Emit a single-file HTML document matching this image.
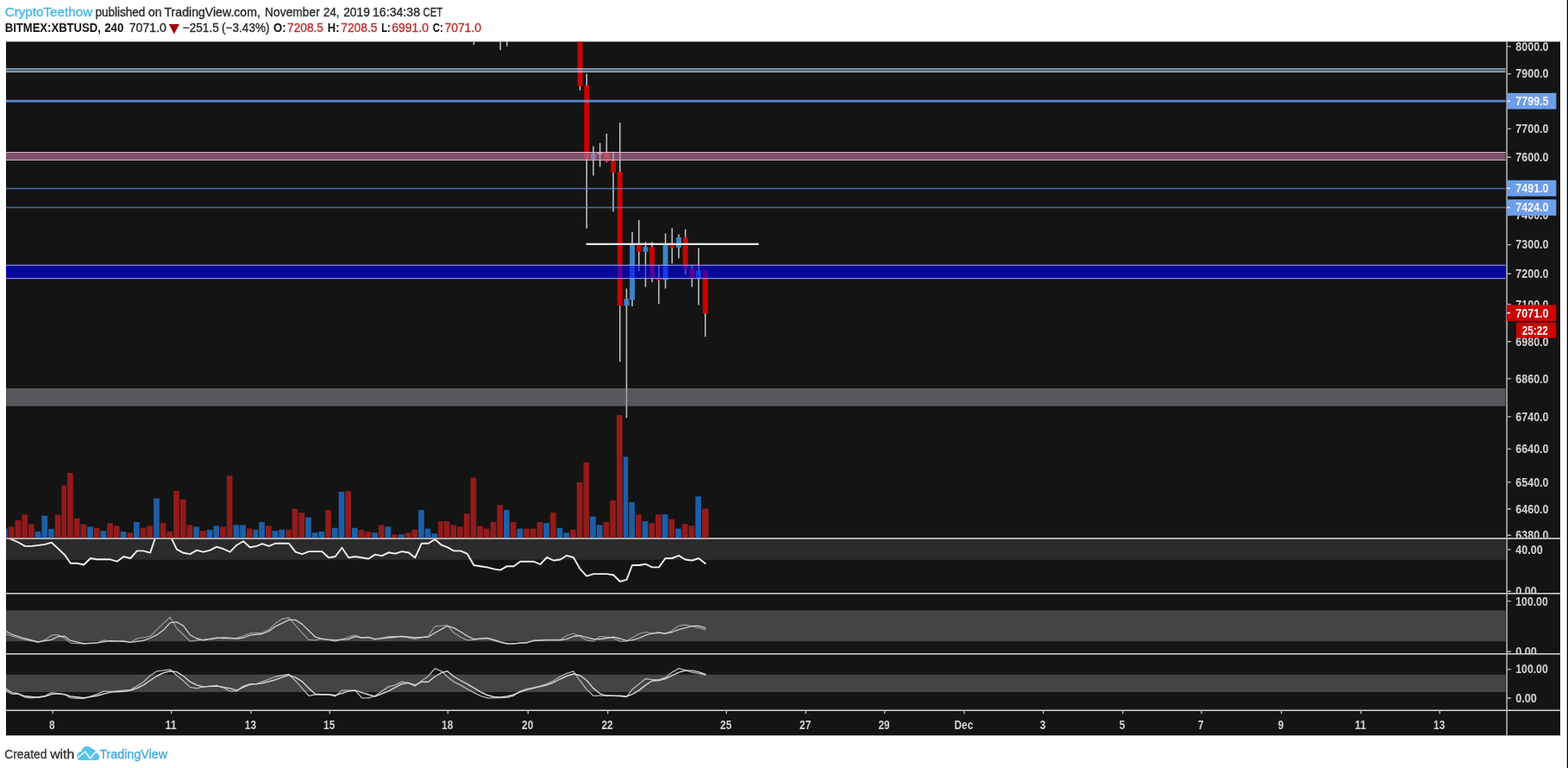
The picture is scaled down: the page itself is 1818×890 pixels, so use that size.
<!DOCTYPE html>
<html lang="en">
<head>
<meta charset="utf-8">
<title>BITMEX:XBTUSD, 240 - TradingView chart by CryptoTeethow</title>
<style>
html, body { margin: 0; padding: 0; background: #ffffff; }
body { width: 1818px; height: 890px; overflow: hidden; position: relative; }
svg { position: absolute; left: 0; top: 0; display: block; font-family: "Liberation Sans", sans-serif; }
svg text { white-space: pre; }
</style>
</head>
<body>
<svg width="1818" height="890" viewBox="0 0 1818 890">
<g id="header">
<text y="19" font-size="14.5" fill="#2a2a2a" stroke="#2a2a2a" stroke-width="0.35"><tspan x="5.70" textLength="101.5" lengthAdjust="spacingAndGlyphs" fill="#4ab6ea" stroke="#4ab6ea">CryptoTeethow</tspan> <tspan x="110.40" textLength="58.0" lengthAdjust="spacingAndGlyphs">published</tspan> <tspan x="172.00" textLength="15.6" lengthAdjust="spacingAndGlyphs">on</tspan> <tspan x="190.50" textLength="111.4" lengthAdjust="spacingAndGlyphs">TradingView.com,</tspan> <tspan x="307.10" textLength="63.7" lengthAdjust="spacingAndGlyphs">November</tspan> <tspan x="375.10" textLength="18.3" lengthAdjust="spacingAndGlyphs">24,</tspan> <tspan x="398.20" textLength="30.7" lengthAdjust="spacingAndGlyphs">2019</tspan> <tspan x="432.00" textLength="55.0" lengthAdjust="spacingAndGlyphs">16:34:38</tspan> <tspan x="490.60" textLength="22.5" lengthAdjust="spacingAndGlyphs">CET</tspan></text>
<text y="37" font-size="14.5"><tspan x="5.70" textLength="111.1" lengthAdjust="spacingAndGlyphs" fill="#111" font-weight="bold">BITMEX:XBTUSD,</tspan> <tspan x="121.20" textLength="22.2" lengthAdjust="spacingAndGlyphs" fill="#111" font-weight="bold">240</tspan> <tspan x="149.70" textLength="43.3" lengthAdjust="spacingAndGlyphs" fill="#2a2a2a" stroke="#2a2a2a" stroke-width="0.35">7071.0</tspan></text>
<polygon points="195.9,27.9 207.9,27.9 201.9,39.6" fill="#a30000"/>
<text y="37" font-size="14.5"><tspan x="211.70" textLength="42.1" lengthAdjust="spacingAndGlyphs" fill="#2a2a2a" stroke="#2a2a2a" stroke-width="0.35">−251.5</tspan> <tspan x="257.00" textLength="55.6" lengthAdjust="spacingAndGlyphs" fill="#2a2a2a" stroke="#2a2a2a" stroke-width="0.35">(−3.43%)</tspan> <tspan x="317.00" textLength="14.6" lengthAdjust="spacingAndGlyphs" fill="#111" font-weight="bold">O:</tspan> <tspan x="333.00" textLength="42.0" lengthAdjust="spacingAndGlyphs" fill="#c23030" stroke="#c23030" stroke-width="0.35">7208.5</tspan> <tspan x="379.70" textLength="13.8" lengthAdjust="spacingAndGlyphs" fill="#111" font-weight="bold">H:</tspan> <tspan x="395.20" textLength="42.3" lengthAdjust="spacingAndGlyphs" fill="#c23030" stroke="#c23030" stroke-width="0.35">7208.5</tspan> <tspan x="442.30" textLength="10.5" lengthAdjust="spacingAndGlyphs" fill="#111" font-weight="bold">L:</tspan> <tspan x="454.30" textLength="42.6" lengthAdjust="spacingAndGlyphs" fill="#c23030" stroke="#c23030" stroke-width="0.35">6991.0</tspan> <tspan x="501.80" textLength="12.1" lengthAdjust="spacingAndGlyphs" fill="#111" font-weight="bold">C:</tspan> <tspan x="515.40" textLength="42.6" lengthAdjust="spacingAndGlyphs" fill="#c23030" stroke="#c23030" stroke-width="0.35">7071.0</tspan></text>
</g>
<rect x="7.00" y="48.30" width="1802.00" height="804.00" fill="#141414"/>
<clipPath id="plot"><rect x="7" y="48.3" width="1738.60" height="575.10"/></clipPath>
<clipPath id="p1"><rect x="7" y="624.6" width="1738.60" height="62.6"/></clipPath>
<clipPath id="p2"><rect x="7" y="688.6" width="1738.60" height="68.6"/></clipPath>
<clipPath id="p3"><rect x="7" y="758.6" width="1738.60" height="64"/></clipPath>
<rect x="7.00" y="624.40" width="1738.60" height="24.30" fill="#2b2b2b"/>
<rect x="7.00" y="707.40" width="1738.60" height="35.90" fill="#444444"/>
<rect x="7.00" y="781.70" width="1738.60" height="20.30" fill="#444444"/>
<line x1="7.00" y1="624.10" x2="1809.00" y2="624.10" stroke="#e0e0e0" stroke-width="1.5"/>
<g id="volume" clip-path="url(#plot)">
<rect x="2.15" y="612.60" width="6.70" height="10.80" fill="#1c5fa8"/>
<rect x="9.85" y="610.40" width="6.70" height="13.00" fill="#921b1b"/>
<rect x="17.55" y="603.00" width="6.70" height="20.40" fill="#921b1b"/>
<rect x="25.25" y="596.30" width="6.70" height="27.10" fill="#921b1b"/>
<rect x="32.95" y="607.50" width="6.70" height="15.90" fill="#921b1b"/>
<rect x="40.65" y="616.10" width="6.70" height="7.30" fill="#1c5fa8"/>
<rect x="48.35" y="597.60" width="6.70" height="25.80" fill="#1c5fa8"/>
<rect x="56.05" y="612.90" width="6.70" height="10.50" fill="#1c5fa8"/>
<rect x="63.75" y="596.30" width="6.70" height="27.10" fill="#921b1b"/>
<rect x="71.45" y="562.50" width="5.60" height="60.90" fill="#921b1b"/>
<rect x="78.05" y="548.10" width="6.70" height="75.30" fill="#921b1b"/>
<rect x="85.75" y="600.80" width="6.70" height="22.60" fill="#921b1b"/>
<rect x="93.45" y="607.50" width="6.70" height="15.90" fill="#921b1b"/>
<rect x="101.15" y="610.40" width="6.70" height="13.00" fill="#1c5fa8"/>
<rect x="108.85" y="611.70" width="6.70" height="11.70" fill="#921b1b"/>
<rect x="116.55" y="615.10" width="6.70" height="8.30" fill="#1c5fa8"/>
<rect x="124.25" y="606.20" width="6.70" height="17.20" fill="#921b1b"/>
<rect x="131.95" y="609.40" width="6.70" height="14.00" fill="#921b1b"/>
<rect x="139.65" y="616.10" width="6.70" height="7.30" fill="#1c5fa8"/>
<rect x="147.35" y="617.30" width="6.70" height="6.10" fill="#921b1b"/>
<rect x="155.05" y="605.00" width="6.70" height="18.40" fill="#1c5fa8"/>
<rect x="162.75" y="611.70" width="6.70" height="11.70" fill="#921b1b"/>
<rect x="170.45" y="609.40" width="6.70" height="14.00" fill="#921b1b"/>
<rect x="178.15" y="577.50" width="6.70" height="45.90" fill="#1c5fa8"/>
<rect x="185.85" y="606.20" width="6.70" height="17.20" fill="#921b1b"/>
<rect x="193.55" y="615.90" width="6.70" height="7.50" fill="#921b1b"/>
<rect x="201.25" y="568.90" width="6.70" height="54.50" fill="#921b1b"/>
<rect x="208.95" y="578.80" width="6.70" height="44.60" fill="#921b1b"/>
<rect x="216.65" y="608.40" width="6.70" height="15.00" fill="#921b1b"/>
<rect x="224.35" y="610.40" width="6.70" height="13.00" fill="#1c5fa8"/>
<rect x="232.05" y="615.10" width="6.70" height="8.30" fill="#921b1b"/>
<rect x="239.75" y="613.90" width="6.70" height="9.50" fill="#1c5fa8"/>
<rect x="247.45" y="609.40" width="6.70" height="14.00" fill="#1c5fa8"/>
<rect x="255.15" y="610.40" width="6.70" height="13.00" fill="#921b1b"/>
<rect x="262.85" y="551.30" width="6.70" height="72.10" fill="#921b1b"/>
<rect x="270.55" y="608.40" width="6.70" height="15.00" fill="#1c5fa8"/>
<rect x="278.25" y="608.40" width="6.70" height="15.00" fill="#1c5fa8"/>
<rect x="285.95" y="612.60" width="6.70" height="10.80" fill="#921b1b"/>
<rect x="293.65" y="613.90" width="5.60" height="9.50" fill="#1c5fa8"/>
<rect x="300.25" y="605.00" width="6.70" height="18.40" fill="#1c5fa8"/>
<rect x="307.95" y="609.40" width="6.70" height="14.00" fill="#921b1b"/>
<rect x="315.65" y="615.10" width="6.70" height="8.30" fill="#1c5fa8"/>
<rect x="323.35" y="613.90" width="6.70" height="9.50" fill="#1c5fa8"/>
<rect x="331.05" y="613.90" width="6.70" height="9.50" fill="#921b1b"/>
<rect x="338.75" y="589.70" width="6.70" height="33.70" fill="#921b1b"/>
<rect x="346.45" y="594.10" width="6.70" height="29.30" fill="#921b1b"/>
<rect x="354.15" y="599.50" width="6.70" height="23.90" fill="#1c5fa8"/>
<rect x="361.85" y="617.30" width="6.70" height="6.10" fill="#1c5fa8"/>
<rect x="369.55" y="616.10" width="6.70" height="7.30" fill="#1c5fa8"/>
<rect x="377.25" y="590.90" width="6.70" height="32.50" fill="#921b1b"/>
<rect x="384.95" y="611.70" width="6.70" height="11.70" fill="#1c5fa8"/>
<rect x="392.65" y="569.90" width="6.70" height="53.50" fill="#1c5fa8"/>
<rect x="400.35" y="568.90" width="6.70" height="54.50" fill="#921b1b"/>
<rect x="408.05" y="611.70" width="6.70" height="11.70" fill="#1c5fa8"/>
<rect x="415.75" y="613.90" width="6.70" height="9.50" fill="#921b1b"/>
<rect x="423.45" y="616.10" width="6.70" height="7.30" fill="#921b1b"/>
<rect x="431.15" y="617.30" width="6.70" height="6.10" fill="#1c5fa8"/>
<rect x="438.85" y="608.40" width="6.70" height="15.00" fill="#921b1b"/>
<rect x="446.55" y="610.40" width="6.70" height="13.00" fill="#1c5fa8"/>
<rect x="454.25" y="619.30" width="6.70" height="4.10" fill="#921b1b"/>
<rect x="461.95" y="619.30" width="6.70" height="4.10" fill="#1c5fa8"/>
<rect x="469.65" y="617.30" width="6.70" height="6.10" fill="#921b1b"/>
<rect x="477.35" y="613.90" width="6.70" height="9.50" fill="#921b1b"/>
<rect x="485.05" y="590.90" width="6.70" height="32.50" fill="#1c5fa8"/>
<rect x="492.75" y="612.60" width="6.70" height="10.80" fill="#1c5fa8"/>
<rect x="500.45" y="618.30" width="6.70" height="5.10" fill="#1c5fa8"/>
<rect x="508.15" y="604.00" width="5.60" height="19.40" fill="#921b1b"/>
<rect x="514.75" y="604.00" width="6.70" height="19.40" fill="#921b1b"/>
<rect x="522.45" y="608.40" width="6.70" height="15.00" fill="#921b1b"/>
<rect x="530.15" y="610.40" width="6.70" height="13.00" fill="#921b1b"/>
<rect x="537.85" y="595.30" width="6.70" height="28.10" fill="#921b1b"/>
<rect x="545.55" y="553.60" width="6.70" height="69.80" fill="#921b1b"/>
<rect x="553.25" y="609.40" width="6.70" height="14.00" fill="#921b1b"/>
<rect x="560.95" y="612.60" width="6.70" height="10.80" fill="#921b1b"/>
<rect x="568.65" y="605.00" width="6.70" height="18.40" fill="#921b1b"/>
<rect x="576.35" y="585.20" width="6.70" height="38.20" fill="#921b1b"/>
<rect x="584.05" y="590.90" width="6.70" height="32.50" fill="#1c5fa8"/>
<rect x="591.75" y="605.00" width="6.70" height="18.40" fill="#921b1b"/>
<rect x="599.45" y="612.60" width="6.70" height="10.80" fill="#1c5fa8"/>
<rect x="607.15" y="612.60" width="6.70" height="10.80" fill="#921b1b"/>
<rect x="614.85" y="612.60" width="6.70" height="10.80" fill="#921b1b"/>
<rect x="622.55" y="605.00" width="6.70" height="18.40" fill="#921b1b"/>
<rect x="630.25" y="606.20" width="6.70" height="17.20" fill="#1c5fa8"/>
<rect x="637.95" y="594.10" width="6.70" height="29.30" fill="#921b1b"/>
<rect x="645.65" y="611.70" width="6.70" height="11.70" fill="#1c5fa8"/>
<rect x="653.35" y="617.30" width="6.70" height="6.10" fill="#1c5fa8"/>
<rect x="661.05" y="613.90" width="6.70" height="9.50" fill="#921b1b"/>
<rect x="668.75" y="559.00" width="6.70" height="64.40" fill="#921b1b"/>
<rect x="676.45" y="535.80" width="6.70" height="87.60" fill="#921b1b"/>
<rect x="684.15" y="598.60" width="6.70" height="24.80" fill="#1c5fa8"/>
<rect x="691.85" y="608.40" width="6.70" height="15.00" fill="#1c5fa8"/>
<rect x="699.55" y="605.00" width="6.70" height="18.40" fill="#921b1b"/>
<rect x="707.25" y="579.80" width="6.70" height="43.60" fill="#921b1b"/>
<rect x="714.95" y="480.90" width="6.70" height="142.50" fill="#921b1b"/>
<rect x="722.65" y="529.30" width="5.60" height="94.10" fill="#1c5fa8"/>
<rect x="729.25" y="582.00" width="6.70" height="41.40" fill="#1c5fa8"/>
<rect x="736.95" y="596.30" width="6.70" height="27.10" fill="#921b1b"/>
<rect x="744.65" y="604.00" width="6.70" height="19.40" fill="#1c5fa8"/>
<rect x="752.35" y="606.20" width="6.70" height="17.20" fill="#921b1b"/>
<rect x="760.05" y="596.10" width="6.70" height="27.30" fill="#921b1b"/>
<rect x="767.75" y="596.10" width="6.70" height="27.30" fill="#1c5fa8"/>
<rect x="775.45" y="601.70" width="6.70" height="21.70" fill="#921b1b"/>
<rect x="783.15" y="612.60" width="6.70" height="10.80" fill="#1c5fa8"/>
<rect x="790.85" y="607.10" width="6.70" height="16.30" fill="#921b1b"/>
<rect x="798.55" y="609.20" width="6.70" height="14.20" fill="#921b1b"/>
<rect x="806.25" y="575.30" width="6.70" height="48.10" fill="#1c5fa8"/>
<rect x="813.95" y="589.50" width="7.70" height="33.90" fill="#921b1b"/>
</g>
<g id="candles" clip-path="url(#plot)">
<line x1="549.35" y1="47.00" x2="549.35" y2="51.90" stroke="#c4c4c4" stroke-width="1.5"/>
<line x1="580.15" y1="47.00" x2="580.15" y2="58.10" stroke="#c4c4c4" stroke-width="1.5"/>
<line x1="587.85" y1="47.00" x2="587.85" y2="53.80" stroke="#c4c4c4" stroke-width="1.5"/>
<line x1="672.55" y1="47.00" x2="672.55" y2="104.80" stroke="#c4c4c4" stroke-width="1.5"/>
<line x1="680.25" y1="85.50" x2="680.25" y2="264.70" stroke="#c4c4c4" stroke-width="1.5"/>
<line x1="687.95" y1="169.40" x2="687.95" y2="203.50" stroke="#c4c4c4" stroke-width="1.5"/>
<line x1="695.65" y1="165.70" x2="695.65" y2="193.60" stroke="#c4c4c4" stroke-width="1.5"/>
<line x1="703.35" y1="154.70" x2="703.35" y2="188.20" stroke="#c4c4c4" stroke-width="1.5"/>
<line x1="711.05" y1="175.80" x2="711.05" y2="245.30" stroke="#c4c4c4" stroke-width="1.5"/>
<line x1="718.75" y1="141.90" x2="718.75" y2="419.20" stroke="#c4c4c4" stroke-width="1.5"/>
<line x1="726.45" y1="334.40" x2="726.45" y2="484.30" stroke="#c4c4c4" stroke-width="1.5"/>
<line x1="733.05" y1="269.00" x2="733.05" y2="355.00" stroke="#c4c4c4" stroke-width="1.5"/>
<line x1="740.75" y1="255.00" x2="740.75" y2="314.30" stroke="#c4c4c4" stroke-width="1.5"/>
<line x1="748.45" y1="280.40" x2="748.45" y2="332.50" stroke="#c4c4c4" stroke-width="1.5"/>
<line x1="756.15" y1="280.40" x2="756.15" y2="327.00" stroke="#c4c4c4" stroke-width="1.5"/>
<line x1="763.85" y1="307.70" x2="763.85" y2="352.20" stroke="#c4c4c4" stroke-width="1.5"/>
<line x1="771.55" y1="270.40" x2="771.55" y2="334.40" stroke="#c4c4c4" stroke-width="1.5"/>
<line x1="779.25" y1="264.60" x2="779.25" y2="305.20" stroke="#c4c4c4" stroke-width="1.5"/>
<line x1="786.95" y1="271.60" x2="786.95" y2="299.40" stroke="#c4c4c4" stroke-width="1.5"/>
<line x1="794.65" y1="265.80" x2="794.65" y2="318.40" stroke="#c4c4c4" stroke-width="1.5"/>
<line x1="802.35" y1="306.70" x2="802.35" y2="332.50" stroke="#c4c4c4" stroke-width="1.5"/>
<line x1="810.05" y1="287.20" x2="810.05" y2="353.40" stroke="#c4c4c4" stroke-width="1.5"/>
<line x1="817.75" y1="313.50" x2="817.75" y2="390.30" stroke="#c4c4c4" stroke-width="1.5"/>
<rect x="669.60" y="47.00" width="5.90" height="53.10" fill="#cc0000"/>
<rect x="677.30" y="99.00" width="5.90" height="84.80" fill="#cc0000"/>
<rect x="685.00" y="178.10" width="5.90" height="5.60" fill="#3d85c6"/>
<rect x="692.70" y="177.20" width="5.90" height="1.40" fill="#d8d8d8"/>
<rect x="700.40" y="177.20" width="5.90" height="9.70" fill="#cc0000"/>
<rect x="708.10" y="186.60" width="5.90" height="13.50" fill="#cc0000"/>
<rect x="715.80" y="199.00" width="5.90" height="155.40" fill="#cc0000"/>
<rect x="723.50" y="346.40" width="5.90" height="8.00" fill="#3d85c6"/>
<rect x="730.10" y="283.30" width="5.90" height="64.30" fill="#3d85c6"/>
<rect x="737.80" y="283.50" width="5.90" height="8.10" fill="#cc0000"/>
<rect x="745.50" y="286.20" width="5.90" height="5.40" fill="#3d85c6"/>
<rect x="753.20" y="286.20" width="5.90" height="35.40" fill="#cc0000"/>
<rect x="760.90" y="321.60" width="5.90" height="3.20" fill="#cc0000"/>
<rect x="768.60" y="283.30" width="5.90" height="41.20" fill="#3d85c6"/>
<rect x="776.30" y="283.60" width="5.90" height="3.40" fill="#cc0000"/>
<rect x="784.00" y="275.10" width="5.90" height="11.70" fill="#3d85c6"/>
<rect x="791.70" y="274.80" width="5.90" height="37.20" fill="#cc0000"/>
<rect x="799.40" y="311.30" width="5.90" height="10.60" fill="#cc0000"/>
<rect x="807.10" y="313.50" width="5.90" height="8.80" fill="#3d85c6"/>
<rect x="814.80" y="313.50" width="5.90" height="49.70" fill="#cc0000"/>
</g>
<g id="drawings">
<rect x="7.00" y="79.00" width="1738.60" height="4.90" fill="#78b9ff" fill-opacity="0.47"/>
<line x1="7.00" y1="79.65" x2="1745.60" y2="79.65" stroke="#e9e9e6" stroke-width="1.4" stroke-opacity="0.55"/>
<line x1="7.00" y1="83.25" x2="1745.60" y2="83.25" stroke="#e9e9e6" stroke-width="1.4" stroke-opacity="0.55"/>
<line x1="7.00" y1="117.10" x2="1745.60" y2="117.10" stroke="#6d9eeb" stroke-width="2.6" stroke-opacity="0.85"/>
<rect x="7.00" y="176.10" width="1738.60" height="9.80" fill="#c27ba0" fill-opacity="0.6"/>
<line x1="7.00" y1="176.50" x2="1745.60" y2="176.50" stroke="#e2b8cd" stroke-width="1.1" stroke-opacity="0.9"/>
<line x1="7.00" y1="185.50" x2="1745.60" y2="185.50" stroke="#e2b8cd" stroke-width="1.1" stroke-opacity="0.9"/>
<line x1="7.00" y1="218.60" x2="1745.60" y2="218.60" stroke="#5a86c8" stroke-width="1.5" stroke-opacity="0.8"/>
<line x1="7.00" y1="240.60" x2="1745.60" y2="240.60" stroke="#5a86c8" stroke-width="1.5" stroke-opacity="0.8"/>
<line x1="679.60" y1="282.90" x2="879.60" y2="282.90" stroke="#e8e8e8" stroke-width="2.2"/>
<rect x="7.00" y="307.30" width="1738.60" height="15.40" fill="#0000ff" fill-opacity="0.57"/>
<line x1="7.00" y1="307.40" x2="1745.60" y2="307.40" stroke="#9a9aff" stroke-width="1.2" stroke-opacity="0.85"/>
<line x1="7.00" y1="322.70" x2="1745.60" y2="322.70" stroke="#9a9aff" stroke-width="1.2" stroke-opacity="0.85"/>
<rect x="7.00" y="450.00" width="1738.60" height="20.60" fill="#8c8e96" fill-opacity="0.56"/>
</g>
<g clip-path="url(#p1)">
<polyline points="5.9,622.0 13.6,625.2 21.3,628.5 29.0,632.9 36.8,632.9 52.2,630.9 59.8,628.7 67.5,635.9 75.2,643.3 81.8,652.7 89.5,652.7 97.2,654.5 104.9,647.0 112.7,648.3 128.0,648.3 135.7,650.7 143.4,645.0 151.2,647.0 158.8,638.4 166.5,638.4 174.2,640.6 181.9,617.7 189.7,615.0" fill="none" stroke="#efefef" stroke-width="1.9" stroke-linejoin="round" stroke-linecap="round"/>
<polyline points="189.7,615.0 197.3,621.0 205.0,636.6 212.7,640.8 220.4,642.1 228.2,637.6 235.8,639.6 243.5,637.6 251.2,633.7 259.0,636.1 266.7,639.6 274.4,631.7 282.1,627.2 289.8,634.2 297.5,632.9 304.1,630.2 311.8,632.9 319.5,629.7 334.9,629.7 342.6,639.6 350.3,642.1 358.0,639.1 373.4,639.1 381.1,646.3 388.8,645.0 396.5,634.7 404.2,646.3 411.9,645.0 427.3,647.5 435.0,642.6 442.7,644.1 450.4,640.3 458.1,641.6 465.8,639.1 473.5,640.3 481.2,646.3 488.9,629.7 496.6,629.7 504.3,625.0 512.0,631.7 518.6,634.2 526.2,638.4 533.9,638.4 541.6,641.6 549.4,655.0 557.1,656.2 564.8,657.4 572.5,659.4 580.1,660.6 587.9,656.2 595.6,656.2 603.2,650.7 618.6,650.7 626.4,654.0 634.1,645.8 641.8,649.5 649.5,648.5 657.1,643.8 664.9,646.0 672.6,659.4 680.2,667.6 688.0,665.1 703.4,665.1 711.1,666.3 718.8,673.8 726.5,671.8 733.0,655.0 740.8,655.0 748.5,653.7 756.1,657.4 763.9,657.4 771.5,647.0 779.2,647.0 787.0,643.8 794.6,648.5 802.4,649.5 810.0,647.0 817.8,653.0" fill="none" stroke="#efefef" stroke-width="1.9" stroke-linejoin="round" stroke-linecap="round"/>
</g>
<g clip-path="url(#p2)">
<polyline points="5.9,734.5 13.6,737.0 29.0,741.4 44.4,744.4 52.2,741.4 59.8,736.2 67.5,735.7 75.2,740.0 81.8,745.1 97.2,746.1 112.7,745.1 120.3,741.9 128.0,743.4 143.4,742.7 151.2,744.4 158.8,740.0 174.2,737.5 181.9,729.6 189.7,722.1 197.3,715.2 205.0,728.3 212.7,735.7 220.4,743.2 235.8,741.4 251.2,739.0 259.0,740.0 274.4,739.5 282.1,737.0 289.8,733.8 304.1,733.3 311.8,729.6 319.5,722.1 327.2,717.2 334.9,715.9 342.6,724.6 350.3,733.3 358.0,741.4 365.7,741.9 373.4,740.0 388.8,743.2 404.2,738.2 411.9,736.2 419.6,739.0 427.3,738.2 435.0,741.2 450.4,737.5 465.8,737.5 481.2,740.7 496.6,737.0 504.3,725.8 518.6,724.6 526.2,733.3 533.9,738.2 541.6,741.9 549.4,741.4 564.8,739.5 572.5,742.4 587.9,746.4 595.6,745.6 611.0,745.1 618.6,741.9 634.1,741.4 649.5,741.4 657.1,736.5 664.9,734.0 672.6,737.5 680.2,741.9 688.0,743.2 695.6,737.5 703.4,738.2 711.1,739.5 718.8,743.2 726.5,743.2 733.0,739.0 740.8,734.5 748.5,732.5 756.1,734.0 763.9,732.5 771.5,734.5 779.2,730.8 787.0,725.1 794.6,724.1 802.4,725.8 810.0,727.6 817.8,729.6" fill="none" stroke="#9c9c9c" stroke-width="1.2" stroke-linejoin="round" stroke-linecap="round"/>
<polyline points="5.9,730.8 13.6,735.2 29.0,740.0 44.4,743.9 59.8,741.4 67.5,737.5 75.2,737.5 81.8,742.4 97.2,745.6 112.7,744.9 128.0,742.7 143.4,743.4 151.2,744.4 166.5,742.4 174.2,739.5 181.9,735.7 189.7,730.0 197.3,721.6 205.0,720.9 212.7,725.3 220.4,735.7 228.2,740.0 235.8,741.9 251.2,739.5 259.0,739.0 274.4,740.0 282.1,739.0 289.8,736.2 304.1,734.5 311.8,731.5 319.5,725.8 334.9,718.4 342.6,718.4 350.3,723.4 358.0,730.8 365.7,738.2 373.4,740.7 388.8,741.9 404.2,740.7 411.9,737.7 419.6,739.0 427.3,738.7 435.0,740.7 450.4,739.0 465.8,737.5 481.2,739.0 496.6,738.2 504.3,733.3 512.0,729.1 518.6,725.3 526.2,727.6 533.9,732.0 541.6,737.0 549.4,740.7 564.8,739.5 572.5,741.4 580.1,743.9 587.9,745.6 595.6,746.1 603.2,744.9 611.0,744.4 618.6,742.7 634.1,741.9 649.5,741.9 657.1,740.7 664.9,737.5 672.6,736.5 680.2,738.7 688.0,740.7 695.6,740.7 703.4,739.5 711.1,738.2 718.8,740.0 726.5,742.4 733.0,741.9 740.8,739.5 748.5,736.2 756.1,734.0 763.9,733.3 771.5,734.0 779.2,732.5 787.0,729.6 794.6,727.6 802.4,725.3 810.0,725.3 817.8,727.6" fill="none" stroke="#cfcfcf" stroke-width="1.3" stroke-linejoin="round" stroke-linecap="round"/>
</g>
<g clip-path="url(#p3)">
<polyline points="5.9,800.1 13.6,804.3 21.3,804.3 29.0,808.0 36.8,808.8 52.2,806.3 59.8,802.6 75.2,805.0 81.8,808.8 97.2,809.5 112.7,804.3 120.3,800.8 128.0,801.3 151.2,799.4 158.8,795.1 166.5,790.2 174.2,782.8 181.9,777.8 197.3,775.8 205.0,782.8 212.7,789.0 220.4,796.4 228.2,797.6 235.8,795.9 251.2,794.4 259.0,796.9 266.7,800.8 274.4,800.8 282.1,795.1 289.8,792.7 297.5,792.7 304.1,790.2 319.5,784.0 334.9,781.5 342.6,789.0 350.3,797.6 358.0,806.3 365.7,805.0 381.1,805.0 388.8,806.8 396.5,800.1 411.9,800.1 419.6,808.8 427.3,808.8 435.0,806.3 450.4,795.9 458.1,793.9 465.8,790.2 473.5,791.4 481.2,795.1 488.9,789.0 496.6,783.5 504.3,774.6 512.0,777.8 518.6,784.0 526.2,790.2 533.9,793.9 541.6,798.4 549.4,802.6 557.1,806.3 564.8,808.8 572.5,808.8 587.9,808.3 595.6,806.3 603.2,800.8 611.0,798.4 626.4,795.1 634.1,792.7 641.8,789.0 649.5,784.0 657.1,780.3 664.9,777.8 672.6,789.0 680.2,798.9 688.0,806.3 703.4,805.8 718.8,806.8 726.5,807.5 733.0,798.9 740.8,792.7 748.5,786.5 756.1,787.7 763.9,787.7 771.5,785.2 779.2,779.1 787.0,774.6 794.6,776.6 802.4,779.1 810.0,780.3 817.8,782.0" fill="none" stroke="#b4b4b4" stroke-width="1.3" stroke-linejoin="round" stroke-linecap="round"/>
<polyline points="5.9,797.6 13.6,802.6 21.3,803.8 29.0,806.8 44.4,808.3 52.2,807.0 59.8,804.6 67.5,803.8 75.2,804.6 81.8,807.0 97.2,808.8 112.7,806.3 128.0,802.1 143.4,801.3 151.2,800.1 158.8,797.6 166.5,793.9 174.2,788.5 181.9,783.5 189.7,779.6 197.3,777.8 205.0,778.6 212.7,783.5 220.4,790.2 228.2,793.9 235.8,795.9 251.2,795.1 259.0,796.4 266.7,797.6 274.4,800.1 282.1,796.4 289.8,793.4 304.1,791.9 319.5,787.7 327.2,784.8 334.9,782.3 342.6,785.2 350.3,789.7 358.0,797.6 365.7,804.3 373.4,804.8 381.1,804.8 388.8,805.8 404.2,800.8 411.9,800.1 419.6,802.6 427.3,805.0 435.0,807.0 450.4,800.8 465.8,792.7 473.5,791.4 481.2,793.9 488.9,790.2 496.6,790.2 504.3,784.0 512.0,779.6 518.6,777.8 526.2,784.0 533.9,788.5 541.6,792.7 549.4,797.1 557.1,801.8 564.8,805.5 572.5,807.5 580.1,808.0 587.9,807.0 595.6,805.0 603.2,801.8 611.0,799.4 626.4,795.6 634.1,793.9 641.8,790.9 649.5,787.0 657.1,783.5 664.9,781.0 672.6,782.8 680.2,788.5 688.0,797.6 695.6,803.8 703.4,806.3 718.8,806.3 726.5,807.0 733.0,804.6 740.8,800.1 748.5,793.9 756.1,789.0 763.9,788.5 771.5,786.5 779.2,782.8 787.0,779.1 794.6,777.1 802.4,777.1 810.0,778.6 817.8,781.5" fill="none" stroke="#d6d6d6" stroke-width="1.4" stroke-linejoin="round" stroke-linecap="round"/>
</g>
<g id="axes">
<line x1="7.00" y1="687.80" x2="1809.00" y2="687.80" stroke="#d6d6d6" stroke-width="1.6"/>
<line x1="7.00" y1="757.80" x2="1809.00" y2="757.80" stroke="#d6d6d6" stroke-width="1.6"/>
<line x1="7.00" y1="823.20" x2="1809.00" y2="823.20" stroke="#d6d6d6" stroke-width="1.6"/>
<line x1="1747.10" y1="48.30" x2="1747.10" y2="852.30" stroke="#bcbcbc" stroke-width="1.5"/>
<clipPath id="a0"><rect x="1747.1" y="48.3" width="61.90" height="574.90"/></clipPath>
<clipPath id="a1"><rect x="1747.1" y="624.8" width="61.90" height="62.2"/></clipPath>
<clipPath id="a2"><rect x="1747.1" y="688.6" width="61.90" height="68.4"/></clipPath>
<clipPath id="a3"><rect x="1747.1" y="758.6" width="61.90" height="64"/></clipPath>
<g clip-path="url(#a0)">
<line x1="1747.10" y1="53.90" x2="1752.00" y2="53.90" stroke="#b4b4b4" stroke-width="1.4"/>
<text x="1757.30" y="59.00" font-size="14.0" fill="#d2d2d2" font-weight="bold" textLength="38.2" lengthAdjust="spacingAndGlyphs">8000.0</text>
<line x1="1747.10" y1="85.60" x2="1752.00" y2="85.60" stroke="#b4b4b4" stroke-width="1.4"/>
<text x="1757.30" y="90.00" font-size="14.0" fill="#d2d2d2" font-weight="bold" textLength="38.2" lengthAdjust="spacingAndGlyphs">7900.0</text>
<line x1="1747.10" y1="149.40" x2="1752.00" y2="149.40" stroke="#b4b4b4" stroke-width="1.4"/>
<text x="1757.30" y="154.00" font-size="14.0" fill="#d2d2d2" font-weight="bold" textLength="38.2" lengthAdjust="spacingAndGlyphs">7700.0</text>
<line x1="1747.10" y1="182.20" x2="1752.00" y2="182.20" stroke="#b4b4b4" stroke-width="1.4"/>
<text x="1757.30" y="187.00" font-size="14.0" fill="#d2d2d2" font-weight="bold" textLength="38.2" lengthAdjust="spacingAndGlyphs">7600.0</text>
<line x1="1747.10" y1="249.20" x2="1752.00" y2="249.20" stroke="#b4b4b4" stroke-width="1.4"/>
<text x="1757.30" y="254.00" font-size="14.0" fill="#d2d2d2" font-weight="bold" textLength="38.2" lengthAdjust="spacingAndGlyphs">7400.0</text>
<line x1="1747.10" y1="283.60" x2="1752.00" y2="283.60" stroke="#b4b4b4" stroke-width="1.4"/>
<text x="1757.30" y="288.00" font-size="14.0" fill="#d2d2d2" font-weight="bold" textLength="38.2" lengthAdjust="spacingAndGlyphs">7300.0</text>
<line x1="1747.10" y1="317.30" x2="1752.00" y2="317.30" stroke="#b4b4b4" stroke-width="1.4"/>
<text x="1757.30" y="322.00" font-size="14.0" fill="#d2d2d2" font-weight="bold" textLength="38.2" lengthAdjust="spacingAndGlyphs">7200.0</text>
<line x1="1747.10" y1="352.80" x2="1752.00" y2="352.80" stroke="#b4b4b4" stroke-width="1.4"/>
<text x="1757.30" y="358.00" font-size="14.0" fill="#d2d2d2" font-weight="bold" textLength="38.2" lengthAdjust="spacingAndGlyphs">7100.0</text>
<line x1="1747.10" y1="395.70" x2="1752.00" y2="395.70" stroke="#b4b4b4" stroke-width="1.4"/>
<text x="1757.30" y="401.00" font-size="14.0" fill="#d2d2d2" font-weight="bold" textLength="38.2" lengthAdjust="spacingAndGlyphs">6980.0</text>
<line x1="1747.10" y1="438.90" x2="1752.00" y2="438.90" stroke="#b4b4b4" stroke-width="1.4"/>
<text x="1757.30" y="444.00" font-size="14.0" fill="#d2d2d2" font-weight="bold" textLength="38.2" lengthAdjust="spacingAndGlyphs">6860.0</text>
<line x1="1747.10" y1="482.90" x2="1752.00" y2="482.90" stroke="#b4b4b4" stroke-width="1.4"/>
<text x="1757.30" y="488.00" font-size="14.0" fill="#d2d2d2" font-weight="bold" textLength="38.2" lengthAdjust="spacingAndGlyphs">6740.0</text>
<line x1="1747.10" y1="520.40" x2="1752.00" y2="520.40" stroke="#b4b4b4" stroke-width="1.4"/>
<text x="1757.30" y="525.00" font-size="14.0" fill="#d2d2d2" font-weight="bold" textLength="38.2" lengthAdjust="spacingAndGlyphs">6640.0</text>
<line x1="1747.10" y1="558.90" x2="1752.00" y2="558.90" stroke="#b4b4b4" stroke-width="1.4"/>
<text x="1757.30" y="564.00" font-size="14.0" fill="#d2d2d2" font-weight="bold" textLength="38.2" lengthAdjust="spacingAndGlyphs">6540.0</text>
<line x1="1747.10" y1="589.70" x2="1752.00" y2="589.70" stroke="#b4b4b4" stroke-width="1.4"/>
<text x="1757.30" y="595.00" font-size="14.0" fill="#d2d2d2" font-weight="bold" textLength="38.2" lengthAdjust="spacingAndGlyphs">6460.0</text>
<line x1="1747.10" y1="620.20" x2="1752.00" y2="620.20" stroke="#b4b4b4" stroke-width="1.4"/>
<text x="1757.30" y="625.00" font-size="14.0" fill="#d2d2d2" font-weight="bold" textLength="38.2" lengthAdjust="spacingAndGlyphs">6380.0</text>
<rect x="1746.30" y="107.80" width="58.10" height="18.70" fill="#6d9eeb"/>
<line x1="1747.10" y1="117.20" x2="1751.00" y2="117.20" stroke="#f0f0f0" stroke-width="1.4"/>
<text x="1757.30" y="122.00" font-size="14.0" fill="#f4f4f8" font-weight="bold" textLength="38.2" lengthAdjust="spacingAndGlyphs">7799.5</text>
<rect x="1746.30" y="208.80" width="58.10" height="18.70" fill="#6d9eeb"/>
<line x1="1747.10" y1="218.20" x2="1751.00" y2="218.20" stroke="#f0f0f0" stroke-width="1.4"/>
<text x="1757.30" y="223.00" font-size="14.0" fill="#f4f4f8" font-weight="bold" textLength="38.2" lengthAdjust="spacingAndGlyphs">7491.0</text>
<rect x="1746.30" y="231.10" width="58.10" height="18.70" fill="#6d9eeb"/>
<line x1="1747.10" y1="240.50" x2="1751.00" y2="240.50" stroke="#f0f0f0" stroke-width="1.4"/>
<text x="1757.30" y="245.00" font-size="14.0" fill="#f4f4f8" font-weight="bold" textLength="38.2" lengthAdjust="spacingAndGlyphs">7424.0</text>
<rect x="1746.30" y="353.30" width="58.10" height="18.70" fill="#cc0000"/>
<line x1="1747.10" y1="362.70" x2="1751.00" y2="362.70" stroke="#f0f0f0" stroke-width="1.4"/>
<text x="1757.30" y="368.00" font-size="14.0" fill="#f4f4f8" font-weight="bold" textLength="38.2" lengthAdjust="spacingAndGlyphs">7071.0</text>
<rect x="1757.90" y="373.60" width="46.50" height="18.00" fill="#cc0000"/>
<text x="1764.80" y="388.00" font-size="14.0" fill="#f4f4f8" font-weight="bold" textLength="30.0" lengthAdjust="spacingAndGlyphs">25:22</text>
</g>
<g clip-path="url(#a1)">
<line x1="1747.10" y1="636.90" x2="1752.00" y2="636.90" stroke="#b4b4b4" stroke-width="1.4"/>
<text x="1757.30" y="642.00" font-size="14.0" fill="#d2d2d2" font-weight="bold" textLength="31.4" lengthAdjust="spacingAndGlyphs">40.00</text>
<line x1="1747.10" y1="685.20" x2="1752.00" y2="685.20" stroke="#b4b4b4" stroke-width="1.4"/>
<text x="1757.30" y="690.00" font-size="14.0" fill="#d2d2d2" font-weight="bold" textLength="24.6" lengthAdjust="spacingAndGlyphs">0.00</text>
</g>
<g clip-path="url(#a2)">
<line x1="1747.10" y1="696.60" x2="1752.00" y2="696.60" stroke="#b4b4b4" stroke-width="1.4"/>
<text x="1757.30" y="702.00" font-size="14.0" fill="#d2d2d2" font-weight="bold" textLength="37.4" lengthAdjust="spacingAndGlyphs">100.00</text>
<line x1="1747.10" y1="755.30" x2="1752.00" y2="755.30" stroke="#b4b4b4" stroke-width="1.4"/>
<text x="1757.30" y="760.00" font-size="14.0" fill="#d2d2d2" font-weight="bold" textLength="24.6" lengthAdjust="spacingAndGlyphs">0.00</text>
</g>
<g clip-path="url(#a3)">
<line x1="1747.10" y1="775.60" x2="1752.00" y2="775.60" stroke="#b4b4b4" stroke-width="1.4"/>
<text x="1757.30" y="780.00" font-size="14.0" fill="#d2d2d2" font-weight="bold" textLength="37.4" lengthAdjust="spacingAndGlyphs">100.00</text>
<line x1="1747.10" y1="809.00" x2="1752.00" y2="809.00" stroke="#b4b4b4" stroke-width="1.4"/>
<text x="1757.30" y="814.00" font-size="14.0" fill="#d2d2d2" font-weight="bold" textLength="24.6" lengthAdjust="spacingAndGlyphs">0.00</text>
</g>
<line x1="61.00" y1="823.20" x2="61.00" y2="827.20" stroke="#b4b4b4" stroke-width="1.4"/>
<text x="57.10" y="844.60" font-size="14.0" fill="#d2d2d2" font-weight="bold" textLength="6.6" lengthAdjust="spacingAndGlyphs">8</text>
<line x1="198.70" y1="823.20" x2="198.70" y2="827.20" stroke="#b4b4b4" stroke-width="1.4"/>
<text x="191.50" y="844.60" font-size="14.0" fill="#d2d2d2" font-weight="bold" textLength="13.2" lengthAdjust="spacingAndGlyphs">11</text>
<line x1="291.00" y1="823.20" x2="291.00" y2="827.20" stroke="#b4b4b4" stroke-width="1.4"/>
<text x="283.80" y="844.60" font-size="14.0" fill="#d2d2d2" font-weight="bold" textLength="13.2" lengthAdjust="spacingAndGlyphs">13</text>
<line x1="382.30" y1="823.20" x2="382.30" y2="827.20" stroke="#b4b4b4" stroke-width="1.4"/>
<text x="375.10" y="844.60" font-size="14.0" fill="#d2d2d2" font-weight="bold" textLength="13.2" lengthAdjust="spacingAndGlyphs">15</text>
<line x1="519.30" y1="823.20" x2="519.30" y2="827.20" stroke="#b4b4b4" stroke-width="1.4"/>
<text x="512.10" y="844.60" font-size="14.0" fill="#d2d2d2" font-weight="bold" textLength="13.2" lengthAdjust="spacingAndGlyphs">18</text>
<line x1="612.30" y1="823.20" x2="612.30" y2="827.20" stroke="#b4b4b4" stroke-width="1.4"/>
<text x="605.10" y="844.60" font-size="14.0" fill="#d2d2d2" font-weight="bold" textLength="13.2" lengthAdjust="spacingAndGlyphs">20</text>
<line x1="704.70" y1="823.20" x2="704.70" y2="827.20" stroke="#b4b4b4" stroke-width="1.4"/>
<text x="697.50" y="844.60" font-size="14.0" fill="#d2d2d2" font-weight="bold" textLength="13.2" lengthAdjust="spacingAndGlyphs">22</text>
<line x1="842.30" y1="823.20" x2="842.30" y2="827.20" stroke="#b4b4b4" stroke-width="1.4"/>
<text x="835.10" y="844.60" font-size="14.0" fill="#d2d2d2" font-weight="bold" textLength="13.2" lengthAdjust="spacingAndGlyphs">25</text>
<line x1="934.30" y1="823.20" x2="934.30" y2="827.20" stroke="#b4b4b4" stroke-width="1.4"/>
<text x="927.10" y="844.60" font-size="14.0" fill="#d2d2d2" font-weight="bold" textLength="13.2" lengthAdjust="spacingAndGlyphs">27</text>
<line x1="1025.70" y1="823.20" x2="1025.70" y2="827.20" stroke="#b4b4b4" stroke-width="1.4"/>
<text x="1018.50" y="844.60" font-size="14.0" fill="#d2d2d2" font-weight="bold" textLength="13.2" lengthAdjust="spacingAndGlyphs">29</text>
<line x1="1118.00" y1="823.20" x2="1118.00" y2="827.20" stroke="#b4b4b4" stroke-width="1.4"/>
<text x="1106.60" y="844.60" font-size="14.0" fill="#d2d2d2" font-weight="bold" textLength="21.6" lengthAdjust="spacingAndGlyphs">Dec</text>
<line x1="1209.70" y1="823.20" x2="1209.70" y2="827.20" stroke="#b4b4b4" stroke-width="1.4"/>
<text x="1205.80" y="844.60" font-size="14.0" fill="#d2d2d2" font-weight="bold" textLength="6.6" lengthAdjust="spacingAndGlyphs">3</text>
<line x1="1301.70" y1="823.20" x2="1301.70" y2="827.20" stroke="#b4b4b4" stroke-width="1.4"/>
<text x="1297.80" y="844.60" font-size="14.0" fill="#d2d2d2" font-weight="bold" textLength="6.6" lengthAdjust="spacingAndGlyphs">5</text>
<line x1="1393.00" y1="823.20" x2="1393.00" y2="827.20" stroke="#b4b4b4" stroke-width="1.4"/>
<text x="1389.10" y="844.60" font-size="14.0" fill="#d2d2d2" font-weight="bold" textLength="6.6" lengthAdjust="spacingAndGlyphs">7</text>
<line x1="1485.70" y1="823.20" x2="1485.70" y2="827.20" stroke="#b4b4b4" stroke-width="1.4"/>
<text x="1481.80" y="844.60" font-size="14.0" fill="#d2d2d2" font-weight="bold" textLength="6.6" lengthAdjust="spacingAndGlyphs">9</text>
<line x1="1578.00" y1="823.20" x2="1578.00" y2="827.20" stroke="#b4b4b4" stroke-width="1.4"/>
<text x="1570.80" y="844.60" font-size="14.0" fill="#d2d2d2" font-weight="bold" textLength="13.2" lengthAdjust="spacingAndGlyphs">11</text>
<line x1="1669.30" y1="823.20" x2="1669.30" y2="827.20" stroke="#b4b4b4" stroke-width="1.4"/>
<text x="1662.10" y="844.60" font-size="14.0" fill="#d2d2d2" font-weight="bold" textLength="13.2" lengthAdjust="spacingAndGlyphs">13</text>
</g>
<g id="footer">
<text y="879" font-size="14.5"><tspan x="5.30" textLength="49.0" lengthAdjust="spacingAndGlyphs" fill="#333" stroke="#333" stroke-width="0.35">Created</tspan> <tspan x="58.20" textLength="28.0" lengthAdjust="spacingAndGlyphs" fill="#333" stroke="#333" stroke-width="0.35">with</tspan></text>
<path d="M92.5 881 C90.5 881 89.1 879.2 89.1 876.8 C89.1 873.6 91.5 871.3 94.6 870.8 C95.2 867.3 97.6 864.8 100.9 864.8 C103.4 864.8 104.9 866.2 106.5 867.3 C108 868.3 110 868.9 111.3 870.3 L111.6 872.6 C113.8 873.4 115.3 875.2 115.3 877.2 C115.3 879.4 113.8 881 112 881 Z" fill="#58c3e8"/>
<polyline points="89.3,878.6 98.6,871.0 104.6,879.0 112.0,869.9" fill="none" stroke="#fff" stroke-opacity="0.92" stroke-width="1.5" stroke-linejoin="miter"/>
<text y="879" font-size="14.5"><tspan x="115.40" textLength="78.7" lengthAdjust="spacingAndGlyphs" fill="#46aae1" stroke="#46aae1" stroke-width="0.35">TradingView</tspan></text>
</g>
<rect x="1816.8" y="0" width="1.2" height="890" fill="#000"/>
</svg>
</body>
</html>
